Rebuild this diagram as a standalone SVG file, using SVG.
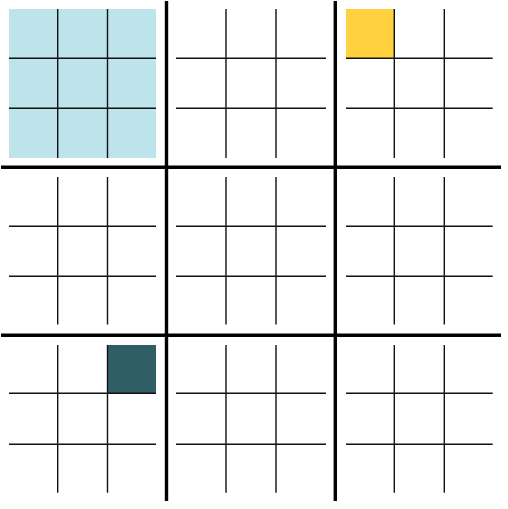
<svg xmlns="http://www.w3.org/2000/svg" width="508" height="509" viewBox="0 0 508 509">
<style>
.thin{stroke:#111;stroke-width:1.4;fill:none}
.thick{stroke:#000;stroke-width:3.4;fill:none}
</style>
<rect width="508" height="509" fill="#fff"/>
<g id="fills">
<rect x="9" y="9" width="147" height="149" fill="#BDE4EA"/>
<rect x="346" y="9" width="48" height="49" fill="#FFD13F"/>
<rect x="107.5" y="345" width="48.5" height="48.5" fill="#2F5F64"/>
</g>
<g id="board00" class="thin">
<path class="thin" d="M57.7 9V158M107.5 9V158M9 58.3H156M9 108.3H156"/>
</g>
<g id="board01">
<path class="thin" d="M226 9V158M276 9V158M176 58.3H326M176 108.3H326"/>
</g>
<g id="board02">
<path class="thin" d="M394.3 9V158M444.3 9V158M346 58.3H492.7M346 108.3H492.7"/>
</g>
<g id="board10">
<path class="thin" d="M57.7 177V324.5M107.5 177V324.5M9 226.3H156M9 276.3H156"/>
</g>
<g id="board11">
<path class="thin" d="M226 177V324.5M276 177V324.5M176 226.3H326M176 276.3H326"/>
</g>
<g id="board12">
<path class="thin" d="M394.3 177V324.5M444.3 177V324.5M346 226.3H492.7M346 276.3H492.7"/>
</g>
<g id="board20">
<path class="thin" d="M57.7 345V492.7M107.5 345V492.7M9 393.3H156M9 444.3H156"/>
</g>
<g id="board21">
<path class="thin" d="M226 345V492.7M276 345V492.7M176 393.3H326M176 444.3H326"/>
</g>
<g id="board22">
<path class="thin" d="M394.3 345V492.7M444.3 345V492.7M346 393.3H492.7M346 444.3H492.7"/>
</g>
<g id="connectors">
<path class="thick" d="M166.5 1V501M335.3 1V501M1 167.3H501M1 335.3H501"/>
</g>
</svg>
